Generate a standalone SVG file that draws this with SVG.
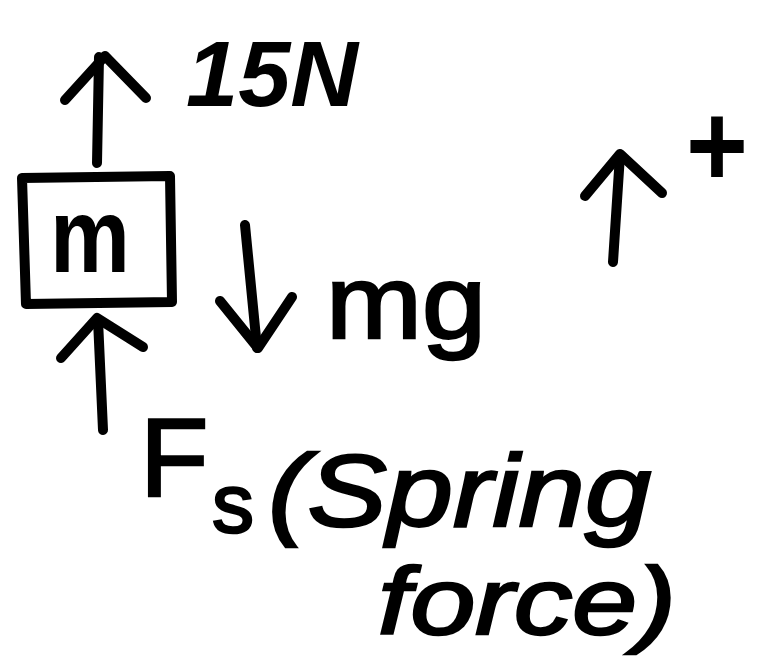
<svg xmlns="http://www.w3.org/2000/svg" width="760" height="667" viewBox="0 0 760 667">
<style>
.s{fill:none;stroke:#000;stroke-width:10;stroke-linecap:round;stroke-linejoin:round}
.t{font-family:"Liberation Sans","DejaVu Sans",sans-serif;font-weight:bold;fill:#000}
.n{font-weight:normal;stroke:#000;stroke-width:2.5}
</style>
<rect width="760" height="667" fill="#fff"/>
<g id="mass">
<path class="s" d="M22,178 L170,176 L172,302 L26,304 Z"/>
<text class="t" x="50" y="272" font-size="105" textLength="80" lengthAdjust="spacingAndGlyphs">m</text>
</g>
<g id="connectors">
<g id="force-15N">
<path class="s" d="M97,163 L99,57"/>
<path class="s" d="M65,100 L105,56 L146,98"/>
</g>
<g id="force-mg">
<path class="s" d="M245,225 L257,348"/>
<path class="s" d="M220,301 L258,348 L292,297"/>
</g>
<g id="force-Fs">
<path class="s" d="M103,430 L98,320"/>
<path class="s" d="M61,358 L97,318 L143,347"/>
</g>
<g id="positive-dir">
<path class="s" d="M613,262 L620,155"/>
<path class="s" d="M585,196 L620,154 L662,193"/>
</g>
</g>
<g id="label-15N"><text class="t" x="186" y="106" font-size="92" textLength="172" lengthAdjust="spacingAndGlyphs" font-style="italic">15N</text></g>
<g id="label-mg"><text class="t n" x="326" y="338" font-size="104" textLength="160" lengthAdjust="spacingAndGlyphs">mg</text></g>
<g id="label-plus"><text class="t" x="686" y="186" font-size="118" textLength="62" lengthAdjust="spacingAndGlyphs">+</text></g>
<g id="label-Fs">
<text class="t n" x="140" y="496" font-size="112">F<tspan x="212" y="532" font-size="84">s</tspan></text>
<text class="t n" x="268" y="526" font-size="102" textLength="383" lengthAdjust="spacingAndGlyphs" font-style="italic">(Spring</text>
<text class="t n" x="378" y="634" font-size="94" textLength="298" lengthAdjust="spacingAndGlyphs" font-style="italic">force)</text>
</g>
</svg>
